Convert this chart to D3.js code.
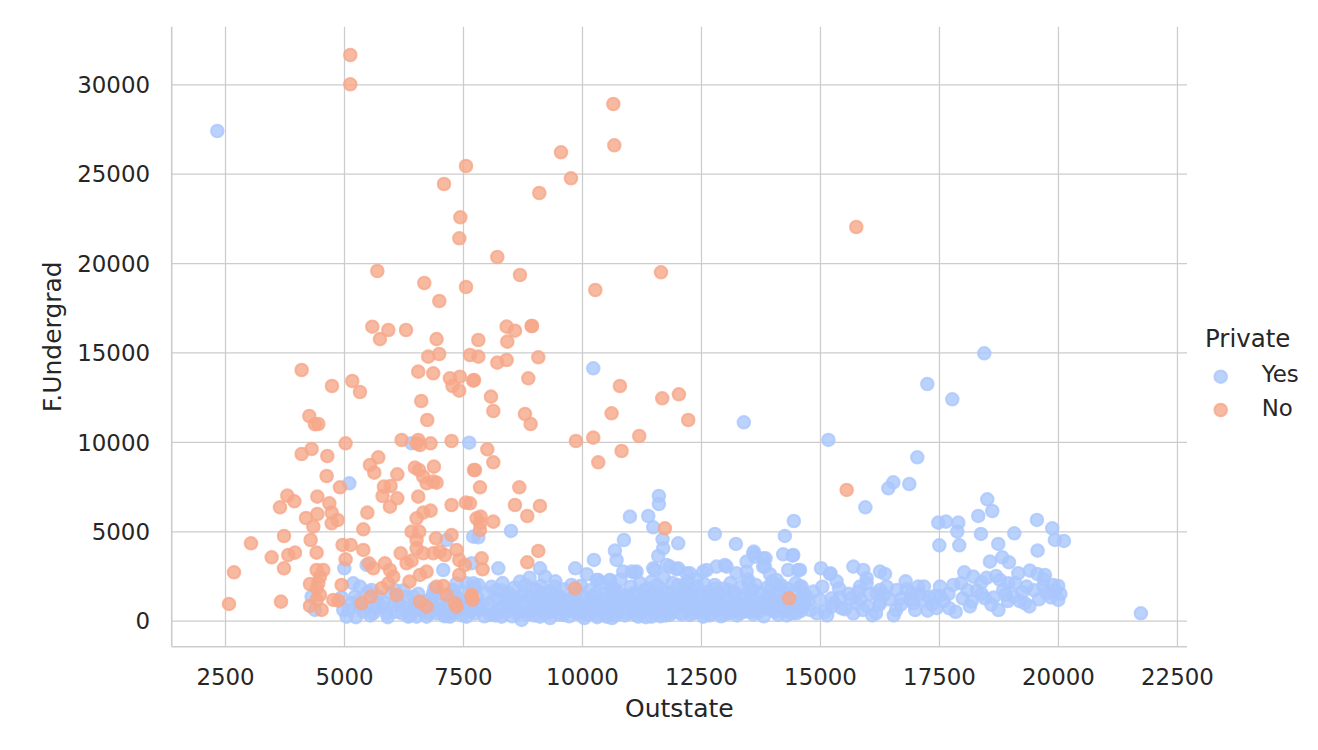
<!DOCTYPE html>
<html>
<head>
<meta charset="utf-8">
<script src="https://cdn.jsdelivr.net/npm/d3@7"></script>
<style>
  body { margin: 0; background: #fff; }
  svg { display: block; }
  text { font-family: "DejaVu Sans", sans-serif; fill: #262626; }
</style>
</head>
<body>
<div id="container"></div>
<script>
/* DATA */
// Private = "Yes" / "No", points are [Outstate, F.Undergrad]
const categories = ["Yes", "No"];
const colors = ["#aac7fd", "#f6a789"];

const xTicks = [2500, 5000, 7500, 10000, 12500, 15000, 17500, 20000, 22500];
const yTicks = [0, 5000, 10000, 15000, 20000, 25000, 30000];

const yesPoints = [
  [2338,27388],[7630,9957],[6420,9920],[5112,7684],[10237,14115],[13401,11095],[15176,10108],[18452,14954],
  [17255,13239],[17780,12382],[17045,9138],[16541,7740],[16436,7405],[16877,7647],[15953,6342],[18515,6790],
  [18620,6137],[18326,5858],[17486,5485],[17647,5541],[17906,5485],[17885,4982],[18382,4851],[19082,4889],
  [19558,5634],[19880,5168],[19936,4516],[20125,4460],[17507,4218],[17927,4218],[18746,4292],[19572,3919],
  [18571,3304],[18830,3546],[18970,3267],[18032,2708],[18221,2465],[18396,2148],[17962,2093],[19166,2652],
  [19411,2801],[19565,2615],[19726,2559],[18781,2279],[18956,2093],[18851,1720],[19061,1347],[19341,1906],
  [19306,974],[19691,1906],[19761,1534],[20006,1943],[20006,1161],[18466,1254],[18186,1067],[17717,695],
  [21742,415],[17521,1906],[17521,1384],[17262,564],[16177,415],[15701,3025],[15911,2838],[15981,2373],
  [16261,2745],[16366,2615],[15022,2932],[15211,2615],[14581,2838],[14616,1906],[14861,1627],[15001,1161],
  [15246,1254],[15421,1310],[14931,415],[15246,788],[15526,639],[15771,974],[15841,1906],[15981,2093],
  [15806,1627],[16261,1720],[16261,1067],[16191,1534],[16611,1720],[16716,1254],[16821,1757],[16926,1534],
  [16961,974],[17066,1906],[17185,1906],[17171,1161],[17416,1384],[14651,788],[14721,1347],
  [11616,6976],[11616,6528],[11007,5820],[11392,5857],[11497,5224],[8508,5019],[7822,4664],[10881,4515],
  [11693,4553],[12022,4329],[11707,4049],[11602,3620],[10692,3919],[10727,3397],[10251,3397],[9859,2931],
  [8242,2931],[9117,2931],[9222,2465],[12792,4851],[13233,4292],[13611,3863],[13632,3583],[13857,3490],
  [14262,4739],[14451,5577],[14227,3714],[14423,3639],[14332,2837],[14542,2837],[13807,3024],[13457,3303],
  [8697,2185],[9432,1906],[7822,2000],[10342,2278],[10587,2241],[10867,2745],[11112,2689],[11497,2931],
  [11462,2185],[11847,3024],[12022,2931],[12197,2651],[12547,2745],[12827,3024],[13037,3024],[13247,2651],
  [14087,2278],[14577,1906],[13598,3768],[13808,3489],[13843,3023],[14438,3675],[15222,2650],[11043,2743],
  [11148,2743],[11533,2836],[11778,3116],[11988,2873],[12268,2650],[12618,2836],[13003,3116],[13458,2743],
  [10308,2277],[10588,2277],
  [4390,601],[4320,1346],[5006,2930],[5476,3117],[4985,600],[5195,2092],[5230,1346],[5335,787],
  [5615,414],[5580,1719],[5790,787],[6035,880],[6210,414],[6280,1346],[6455,694],[6525,228],
  [6665,507],[6805,694],[6945,414],[7085,321],[7225,228],[7365,1346],[7435,600],[7575,228],
  [7680,3210],[7575,2092],[7750,1905],[7785,973],[7085,2837],[7155,4515],[7715,4701],[7365,2092],
  [5055,228],[5160,973],[5405,507],[5685,1067],[5895,414],[6140,1160],[6350,228],[6455,1346],
  [6735,228],[6840,1253],[7015,880],[7155,600],[7295,414],[7470,1067],[7610,694],[7750,414],
  [5335,1905],[6070,1719],[6875,1532],[7295,1719],[7715,2092],
  [4950,1300],[5100,600],[5250,200],[5300,1100],[5450,800],[5500,1600],[5550,300],[5650,700],
  [5720,1350],[5850,1000],[5920,200],[6000,1500],[6080,500],[6180,900],[6250,1700],[6320,700],
  [6400,300],[6500,1000],[6560,1500],[6620,600],[6700,1100],[6780,400],[6850,900],[6900,1800],
  [6980,600],[7050,1200],[7120,250],[7180,900],[7250,1500],[7320,550],[7400,1000],[7480,300],
  [7520,1600],[7600,1000],[7650,500],[7800,1300],[7900,900],[7950,250],
  [7997,1533],[8137,1160],[8347,787],[8312,228],[8557,1067],[8732,42],[8767,1533],[8977,601],
  [9117,228],[9257,1160],[9467,787],[9607,321],[9747,1160],[9922,414],[10097,974],[10307,321],
  [10447,1533],[10587,694],[10762,1160],[10937,414],[11077,1533],[11252,787],[11462,228],[11567,1160],
  [11777,601],[11917,1533],[12127,787],[12267,321],[12477,1533],[12617,601],[12827,1160],[12967,321],
  [13177,1533],[13317,414],[13527,1160],[13667,601],[13877,1346],[14017,601],[14227,1160],[14507,414],
  [14647,1533],
  [7857,601],[8067,321],[8207,1719],[8452,1346],[8627,414],[8872,1160],[9047,1719],[9187,601],
  [9362,1533],[9537,1160],[9677,694],[9860,1400],[10027,507],[10202,1346],[10377,787],[10517,228],
  [10692,1719],[10832,694],[11007,1067],[11182,228],[11357,1346],[11532,694],[11672,1719],[11847,321],
  [12022,1160],[12197,1719],[12372,880],[12547,228],[12722,1533],[12897,787],[13072,1719],[13247,1067],
  [13422,507],[13597,1719],[13772,880],[13947,1719],[14122,321],[14297,1533],[14402,880],[14577,1160],
  [8150,450],[8420,1250],[8600,650],[8850,350],[9050,900],[9300,450],[9550,1350],[9800,800],
  [10050,150],[10250,1050],[10450,650],[10700,300],[10950,1250],[11150,550],[11400,900],[11650,250],
  [11850,1050],[12050,450],[12300,1250],[12500,700],[12700,350],[12950,1000],[13150,500],[13400,1250],
  [13600,350],[13850,800],[14050,1050],[14300,300],[14550,750],[8300,1700],[9150,1500],[9900,1650],
  [10650,1850],[11300,1700],[12150,1950],[12800,1800],[13500,2100],[14150,1900],[8900,2400],[10100,2600],
  [12400,2300],[13950,2600],
  [8050,900],[8100,1900],[8180,300],[8250,1200],[8280,650],[8330,2100],[8380,450],[8470,1550],
  [8500,900],[8540,250],[8580,1850],[8640,1150],[8680,500],[8720,1400],[8790,800],[8810,2000],
  [8880,550],[8920,1300],[8960,1800],[9000,300],[9030,1050],[9090,700],[9140,1950],[9170,1200],
  [9210,400],[9250,850],[9290,1650],[9330,150],[9380,1000],[9420,600],[9440,2200],[9490,1350],
  [9520,350],[9580,900],[9620,1750],[9660,500],[9700,1150],[9730,250],[9780,2000],[9820,650],
  [9850,1200],[9890,400],[9950,950],[9980,1950],[10020,700],[10070,1300],[10110,350],[10160,1700],
  [10180,900],[10230,500],[10280,1500],[10320,200],[10360,1100],[10400,2100],[10420,800],[10480,400],
  [10520,1300],[10560,950],[10610,1700],[10630,150],[10680,1000],[10730,500],[10780,1600],[10810,2300],
  [10850,850],[10900,300],[10920,1400],[10980,700],[11030,1900],[11060,1100],[11100,350],[11140,1500],
  [11180,850],[11220,2100],[11270,500],[11310,1200],[11340,200],[11380,1800],[11420,650],[11450,1400],
  [11500,1000],[11540,400],[11580,2000],[11600,1500],[11640,700],[11690,1250],[11720,2400],[11760,300],
  [11800,1600],[11830,900],[11880,500],[11900,2100],[11950,1300],[11980,750],[12020,2000],[12060,1150],
  [12100,350],[12130,1550],[12180,900],[12220,2200],[12250,600],[12290,1700],[12330,400],[12360,1150],
  [12420,1900],[12440,750],[12490,1300],[12520,450],[12570,2050],[12600,1000],[12650,1600],[12680,300],
  [12730,900],[12760,1350],[12790,2000],[12850,600],[12880,1500],[12920,250],[12980,1800],[13000,800],
  [13050,1250],[13090,400],[13120,2100],[13170,1000],[13200,1600],[13260,300],[13290,850],[13340,1900],
  [13370,600],[13430,1450],[13460,950],[13490,2300],[13540,500],[13570,1300],[13620,800],[13650,2000],
  [13700,450],[13740,1550],[13790,1050],[13820,250],[13890,1850],[13920,650],[13970,1300],[14000,2200],
  [14060,500],[14100,1500],[14150,800],[14180,2000],[14250,1300],[14270,600],[14320,1800],[14370,950],
  [14400,400],[14460,1500],[14490,2100],[14530,1050],[14600,550],[14620,1300],[14680,900],
  [15100,500],[15400,1800],[15650,1250],[16000,800],[16350,1450],[16600,600],[16900,1200],[17350,900],
  [17700,1500],[18000,1250],[18300,1700],[18600,900],[18900,1450],[19200,1100],[19500,1700],[19850,1300],
  [18700,2500],[19900,2000],
  [14750,1100],[14800,600],[15050,1900],[15150,300],[15300,1000],[15350,2200],[15450,700],[15600,1500],
  [15700,400],[15850,1200],[15900,600],[16050,1500],[16100,300],[16250,900],[16400,1900],[16450,1200],
  [16550,300],[16700,900],[16800,2200],[17000,600],[17100,1500],[17300,1300],[17450,700],[17600,1100],
  [17800,2000],[17850,500],[18100,1700],[18150,800],[18400,1500],[18500,2400],[18650,1300],[18750,600],
  [18950,1100],[19100,2100],[19250,1600],[19400,800],[19600,1200],[19700,2300],[19950,1700],[20050,1500]
];

const noPoints = [
  [5132,31638],[5132,30000],[7563,25430],[7101,24424],[7444,22562],[7423,21387],[8221,20341],[5700,19558],
  [6687,18887],[7563,18663],[7002,17880],[5595,16443],[5931,16258],[6303,16258],[8697,19334],
  [10658,28898],[10679,26588],[9559,26197],[9769,24743],[9103,23921],[15763,22019],[11660,19485],[10280,18496],
  [8950,16483],[5755,15750],[6945,15750],
  [6770,14767],[7000,14916],[6560,13928],[6875,13835],[7225,13555],[7435,13648],[7280,13127],[7420,12865],
  [7715,13425],
  [4110,14021],[4747,13126],[5174,13406],[5335,12791],[6623,12288],[6749,11225],[4271,11449],[4390,10983],
  [4460,11000],[6210,10107],[6560,10107],[6595,9827],[6525,9920],[6819,9920],[7260,10051],[5034,9920],
  [4320,9603],[4110,9324],[4649,9212],[5720,9138],[5545,8709],[5636,8280],[6120,8187],[6490,8560],
  [6574,8429],[6889,8616],[6665,8056],[6875,7777],[6945,7721],[6735,7684],[7731,8429],[4635,8094],
  [4915,7460],[5839,7497],[5979,7535],[5811,6975],[6120,6845],[6560,6938],[5965,6379],[3809,6994],
  [3957,6677],[3655,6341],[4440,6938],[4692,6565],[4741,6043],[4867,5633],[4741,5447],[4202,5745],
  [4440,5969],[4356,5260],[5490,6043],[5406,5111],[6525,5726],[6665,6043],[6819,6155],[6420,4981],
  [6581,4981],[6525,4515],[6931,4608],[7260,6472],[7561,6602],[7260,4794],[7785,5726],[3739,4738],
  [4299,4515],[3046,4329],[3480,3546],[3830,3676],[3970,3806],[3739,2930],[4425,3806],[2689,2707],
  [2584,936],[3676,1066],[4970,4236],[5140,4236],[5034,3434],[5406,3956],[5525,3210],[5616,2930],
  [5860,3210],[6190,3769],[6315,3210],[6420,3359],[6525,4049],[6665,3769],[6875,3769],[7015,3862],
  [7120,3676],[7365,3956],[7421,3396],[7540,3117],[5965,2837],[6035,2465],[5930,2091],[5790,1812],
  [6375,2184],[6595,2558],[6735,2744],[4425,2837],[4565,2837],[4495,2465],[4285,2054],[4460,2091],
  [4425,1812],[4495,1440],[4285,824],[4530,601],[4425,1160],[4775,1160],[4880,1123],[4950,2000],
  [5370,973],[5560,1346],[6105,1440],[6595,1066],[6735,787],[6945,1905],[7085,1942],[7155,1440],
  [7330,973],[7365,787],[7680,1440],[7700,1160],[7421,2558],
  [8417,16445],[8592,16221],[8942,16482],[7822,15699],[8431,15606],[7647,14860],[7822,14767],[8221,14432],
  [8417,14581],[9082,14730],[7731,13462],[8872,13556],[8088,12530],[8137,11729],[8802,11561],[8921,11002],
  [9873,10051],[10237,10238],[10622,11598],[10797,13127],[11686,12437],[12036,12661],[12232,11226],[11203,10331],
  [10832,9492],[10342,8858],[8011,9585],[8137,8858],[7752,8430],[7857,7460],[7647,6566],[8683,7460],
  [8592,6472],[8851,5857],[9117,6417],[7871,5820],[7857,5447],[7857,5075],[8137,5540],[9082,3900],
  [8851,3266],[7892,3490],[7913,2874],[9852,1812],[7682,1346],[11742,5168],[14353,1254],[15561,7312]
];

/* CONSTANTS */
const width = 1318,
  height = 750;
const plot = { left: 171.7, right: 1187, top: 26.7, bottom: 646.7 };

const xScale = d3.scaleLinear()
  .domain([1380, 22711])
  .range([plot.left, plot.right]);

const yScale = d3.scaleLinear()
  .domain([-1454, 33221])
  .range([plot.bottom, plot.top]);

const colorScale = d3.scaleOrdinal()
  .domain(categories)
  .range(colors);

const svg = d3.select("#container")
  .append("svg")
  .attr("width", width)
  .attr("height", height);

/* GRID + AXES */
const xAxis = d3.axisBottom(xScale)
  .tickValues(xTicks)
  .tickFormat(d3.format("d"))
  .tickSize(-(plot.bottom - plot.top));

const yAxis = d3.axisLeft(yScale)
  .tickValues(yTicks)
  .tickFormat(d3.format("d"))
  .tickSize(-(plot.right - plot.left));

const gx = svg.append("g")
  .attr("transform", `translate(0,${plot.bottom})`)
  .call(xAxis);

const gy = svg.append("g")
  .attr("transform", `translate(${plot.left},0)`)
  .call(yAxis);

[gx, gy].forEach(g => {
  g.select(".domain").remove();
  g.selectAll(".tick line")
    .attr("stroke", "#cccccc")
    .attr("stroke-width", 1.25);
  g.selectAll(".tick text")
    .attr("fill", "#262626")
    .style("font-size", "22.9px")
    .style("font-family", "'DejaVu Sans', sans-serif");
});

gx.selectAll(".tick text")
  .attr("y", 38.3)
  .attr("dy", null);

gy.selectAll(".tick text")
  .attr("x", -21.7)
  .attr("dy", "0.36em");

// spines (left + bottom only, seaborn despine)
svg.append("line")
  .attr("x1", plot.left).attr("x2", plot.left)
  .attr("y1", plot.top).attr("y2", plot.bottom)
  .attr("stroke", "#cccccc")
  .attr("stroke-width", 1.6);

svg.append("line")
  .attr("x1", plot.left).attr("x2", plot.right)
  .attr("y1", plot.bottom).attr("y2", plot.bottom)
  .attr("stroke", "#cccccc")
  .attr("stroke-width", 1.6);

/* POINTS */
// blue ("Yes") drawn first, orange ("No") on top
const groups = [yesPoints, noPoints];
groups.forEach((pts, i) => {
  svg.append("g")
    .selectAll("circle")
    .data(pts)
    .join("circle")
    .attr("cx", d => xScale(d[0]))
    .attr("cy", d => yScale(d[1]))
    .attr("r", 6.25)
    .attr("fill", colorScale(categories[i]))
    .attr("fill-opacity", 0.8)
    .attr("stroke", colorScale(categories[i]))
    .attr("stroke-opacity", 0.8)
    .attr("stroke-width", 2.08);
});

/* AXIS LABELS */
svg.append("text")
  .attr("x", (plot.left + plot.right) / 2)
  .attr("y", 717)
  .attr("text-anchor", "middle")
  .style("font-size", "25px")
  .text("Outstate");

svg.append("text")
  .attr("transform", `translate(61,${(plot.top + plot.bottom) / 2})rotate(-90)`)
  .attr("text-anchor", "middle")
  .style("font-size", "25px")
  .text("F.Undergrad");

/* LEGEND */
const legend = svg.append("g");

legend.append("text")
  .attr("x", 1205)
  .attr("y", 346.7)
  .style("font-size", "24.5px")
  .text("Private");

const legendRows = [376.7, 410];
categories.forEach((c, i) => {
  legend.append("circle")
    .attr("cx", 1220.7)
    .attr("cy", legendRows[i])
    .attr("r", 6.25)
    .attr("fill", colorScale(c))
    .attr("fill-opacity", 0.8)
    .attr("stroke", colorScale(c))
    .attr("stroke-opacity", 0.8)
    .attr("stroke-width", 2.08);

  legend.append("text")
    .attr("x", 1261.7)
    .attr("y", legendRows[i] + 5.5)
    .style("font-size", "22.9px")
    .text(c);
});
</script>
</body>
</html>
